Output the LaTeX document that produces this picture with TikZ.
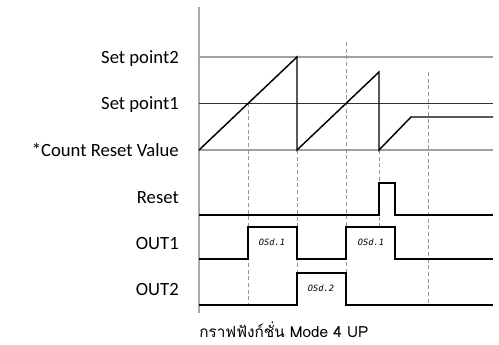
\documentclass[tikz,border=0pt]{standalone}
\usepackage{fontspec}
\setmainfont{Carlito}
\newfontfamily\thaifont[Script=Thai]{Loma}
\newfontfamily\segfont{DejaVu Sans Mono}
\usetikzlibrary{positioning}
\definecolor{axisgray}{RGB}{170,170,170}
\definecolor{gridgray}{RGB}{160,160,160}
\definecolor{dashgray}{RGB}{150,150,150}

\begin{document}
\begin{tikzpicture}[x=0.75pt,y=-0.75pt,
    lbl/.style={anchor=base east,inner xsep=0pt,font=\fontsize{14}{14}\selectfont},
    osd/.style={font=\segfont\itshape\fontsize{6.5}{6.5}\selectfont},
    sig/.style={line width=1.1pt,black,line join=miter},
    levelline/.style={line width=1pt,gridgray},
    tickline/.style={dash pattern=on 3pt off 2pt,line width=0.5pt,dashgray}]
  \useasboundingbox (0,0) rectangle (499,344);
  % axis and level lines
  \draw[line width=1pt,axisgray] (199,7) -- (199,313);
  \draw[levelline] (199,57) -- (493,57);
  \draw[line width=0.6pt,black!80] (199,103) -- (493,103);
  \draw[levelline] (199,150) -- (493,150);
  % time markers
  \draw[tickline] (248,103) -- (248,305);
  \draw[tickline] (297,150) -- (297,305);
  \draw[tickline] (346,42) -- (346,305);
  \draw[tickline] (379,150) -- (379,226);
  \draw[tickline] (428,72) -- (428,305);
  % counter
  \draw[sig] (199,150) -- (297,57) -- (297,150) -- (379,72) -- (379,150)
    -- (411,117) -- (493,117);
  % reset
  \draw[sig] (199,215) -- (379,215) -- (379,183) -- (395,183) -- (395,215) -- (493,215);
  % outputs
  \draw[sig] (199,259) -- (248,259) -- (248,227) -- (297,227) -- (297,259)
    -- (346,259) -- (346,227) -- (395,227) -- (395,259) -- (493,259);
  \draw[sig] (199,305) -- (297,305) -- (297,273) -- (346,273) -- (346,305) -- (493,305);
  % labels
  \node[lbl] (sp2) at (179,63) {Set point2};
  \node[lbl] (sp1) at (179,109) {Set point1};
  \node[lbl] (crv) at (179,156) {*Count Reset Value};
  \node[lbl] (rst) at (179,203) {Reset};
  \node[lbl] (out1) at (179,249) {OUT1};
  \node[lbl] (out2) at (179,295) {OUT2};
  \node[osd] (osda) at (272,242) {OSd.1};
  \node[osd] (osdb) at (371,242) {OSd.1};
  \node[osd] (osdc) at (321,288) {OSd.2};
  \node[anchor=base west,inner xsep=0pt,font=\thaifont\fontsize{11.5}{11.5}\selectfont] (cap) at (199,337)
    {กราฟฟังก์ชั่น Mode 4 UP};
\end{tikzpicture}
\end{document}
